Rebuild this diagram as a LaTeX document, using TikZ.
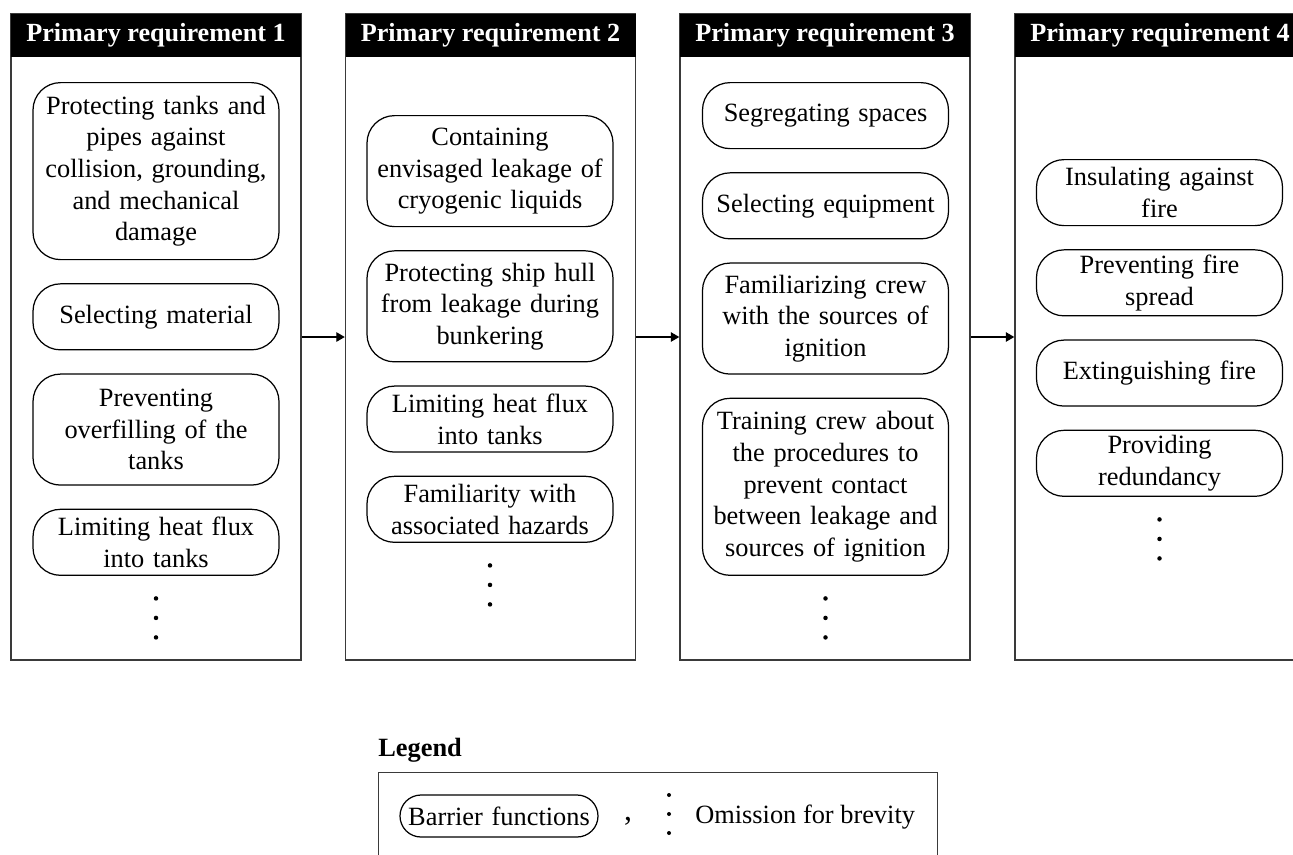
\documentclass[tikz,border=0pt]{standalone}
\usepackage{fontspec}
\setmainfont{Liberation Serif}
\usetikzlibrary{arrows.meta, positioning, calc}
\definecolor{FrameGray}{HTML}{3A3A3A}
\tikzset{
  column/.style={draw=FrameGray, line width=0.8pt, minimum width=5.8cm, minimum height=12.92cm, inner sep=0pt},
  header/.style={fill=black, text=white, minimum width=5.8cm, minimum height=0.86cm, inner sep=0pt, font=\fontsize{14.9}{18}\selectfont\bfseries},
  barrier/.style={draw=black, line width=0.7pt, rounded corners=0.55cm, fill=white, align=center, text width=4.7cm, minimum width=4.92cm, minimum height=1.32cm, inner sep=1pt, font=\fontsize{15}{18}\selectfont},
  tall/.style={minimum height=2.22cm},
  taller/.style={minimum height=3.54cm},
  plain/.style={inner sep=0pt, font=\fontsize{15}{18}\selectfont},
  arrow/.style={-{Triangle[length=1.7mm, width=1.9mm]}, line width=0.7pt}
}

\begin{document}
\begin{tikzpicture}
\useasboundingbox (0,0) rectangle (25.86,-17.08);
\clip (0,0) rectangle (25.86,-17.08);
% columns
\node[column] (c1) at (3.12,-6.74) {};
\node[column] (c2) at (9.81,-6.74) {};
\node[column] (c3) at (16.50,-6.74) {};
\node[column] (c4) at (23.20,-6.74) {};
\node[header, below=0pt of c1.north] (h1) {Primary requirement 1};
\node[header, below=0pt of c2.north] (h2) {Primary requirement 2};
\node[header, below=0pt of c3.north] (h3) {Primary requirement 3};
\node[header, below=0pt of c4.north] (h4) {Primary requirement 4};
\draw[arrow] (c1) -- (c2);
\draw[arrow] (c2) -- (c3);
\draw[arrow] (c3) -- (c4);
% requirement 1
\node[barrier, taller, anchor=north] (b11) at (3.12,-1.64)
  {Protecting tanks and\\pipes against\\collision, grounding,\\and mechanical\\damage};
\node[barrier, below=0.46cm of b11] (b12) {Selecting material};
\node[barrier, tall, below=0.46cm of b12] (b13) {Preventing\\overfilling of the\\tanks};
\node[barrier, below=0.46cm of b13] (b14) {Limiting heat flux\\into tanks};
% requirement 2
\node[barrier, tall, anchor=north] (b21) at (9.80,-2.30)
  {Containing\\envisaged leakage of\\cryogenic liquids};
\node[barrier, tall, below=0.46cm of b21] (b22) {Protecting ship hull\\from leakage during\\bunkering};
\node[barrier, below=0.46cm of b22] (b23) {Limiting heat flux\\into tanks};
\node[barrier, below=0.46cm of b23] (b24) {Familiarity with\\associated hazards};
% requirement 3
\node[barrier, anchor=north] (b31) at (16.51,-1.64) {Segregating spaces};
\node[barrier, below=0.46cm of b31] (b32) {Selecting equipment};
\node[barrier, tall, below=0.46cm of b32] (b33) {Familiarizing crew\\with the sources of\\ignition};
\node[barrier, taller, below=0.46cm of b33] (b34)
  {Training crew about\\the procedures to\\prevent contact\\between leakage and\\sources of ignition};
% requirement 4
\node[barrier, anchor=north] (b41) at (23.19,-3.18) {Insulating against\\fire};
\node[barrier, below=0.46cm of b41] (b42) {Preventing fire\\spread};
\node[barrier, below=0.46cm of b42] (b43) {Extinguishing fire};
\node[barrier, below=0.46cm of b43] (b44) {Providing\\redundancy};
% omitted items
\coordinate (v1) at ($(b14.south)+(0,-0.45)$);
\coordinate (v2) at ($(b24.south)+(0,-0.45)$);
\coordinate (v3) at ($(b34.south)+(0,-0.45)$);
\coordinate (v4) at ($(b44.south)+(0,-0.45)$);
\foreach \v in {v1,v2,v3,v4}
  \foreach \k in {0,1,2}
    \fill ($(\v)+(0,-\k*0.39)$) circle (0.045);
% legend
\node[plain, font=\fontsize{15}{18}\selectfont\bfseries, anchor=west] (legtitle) at (7.56,-15.0) {Legend};
\node[draw=FrameGray, line width=0.8pt, minimum width=11.18cm, minimum height=2.4cm, anchor=north west, inner sep=0pt] (legbox) at (7.56,-15.44) {};
\node[barrier, text width=3.7cm, minimum width=3.96cm, minimum height=0.84cm, rounded corners=0.42cm] (legfn) at (9.98,-16.32) {Barrier functions};
\node[plain, font=\fontsize{18}{18}\selectfont] (comma) at (12.56,-16.42) {,};
\coordinate (lv) at (13.38,-15.90);
\foreach \k in {0,1,2}
  \fill ($(lv)+(0,-\k*0.38)$) circle (0.04);
\node[plain, anchor=west] (omit) at (13.90,-16.34) {Omission for brevity};
\end{tikzpicture}
\end{document}
